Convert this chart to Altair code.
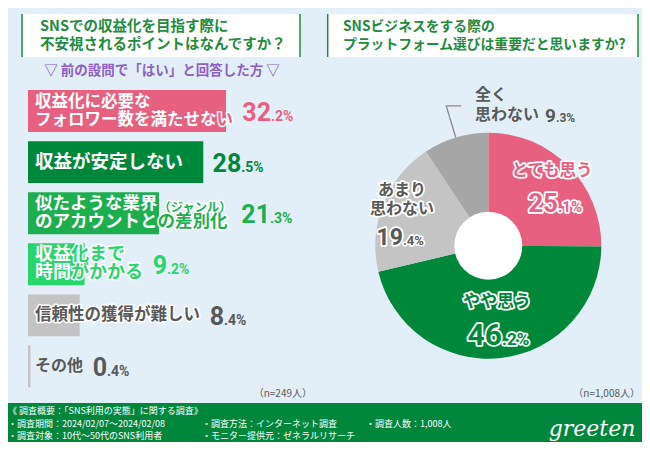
import math
import altair as alt
import pandas as pd

# ---------------- data ----------------
bar_categories = [
    "収益化に必要なフォロワー数を満たせない",
    "収益が安定しない",
    "似たような業界（ジャンル）のアカウントとの差別化",
    "収益化まで時間がかかる",
    "信頼性の獲得が難しい",
    "その他",
]
bar_label_lines = [
    ["収益化に必要な", "フォロワー数を満たせない"],
    ["収益が安定しない"],
    ["似たような業界（ジャンル）", "のアカウントとの差別化"],
    ["収益化まで", "時間がかかる"],
    ["信頼性の獲得が難しい"],
    ["その他"],
]
bar_values = [32.2, 28.5, 21.3, 9.2, 8.4, 0.4]

pie_categories = ["とても思う", "やや思う", "あまり思わない", "全く思わない"]
pie_label_lines = [["とても思う"], ["やや思う"], ["あまり", "思わない"], ["全く", "思わない"]]
pie_values = [25.1, 46.2, 19.4, 9.3]

left_title = ["SNSでの収益化を目指す際に", "不安視されるポイントはなんですか？"]
right_title = ["SNSビジネスをする際の", "プラットフォーム選びは重要だと思いますか?"]
subtitle = "▽  前の設問で「はい」と回答した方  ▽"
left_n = "（n=249人）"
right_n = "（n=1,008人）"
footer_col1 = ["《 調査概要：「SNS利用の実態」に関する調査》", "・調査期間：2024/02/07～2024/02/08", "・調査対象：10代～50代のSNS利用者"]
footer_col2 = ["・調査方法：インターネット調査", "・モニター提供元：ゼネラルリサーチ"]
footer_col3 = ["・調査人数：1,008人"]
logo_text = "greeten"

# ---------------- layout / style ----------------
W, H = 634, 434   # chart sits at page (8, 8)


def X(v):
    return v - 8


def Y(v):
    return v - 8


BG = "#E3EFF8"
TITLE_GREEN = "#1E8B3E"
PINK = "#E8607F"
GREEN = "#00883A"
GREEN2 = "#1DAF4F"
GREEN3 = "#28D56A"
GRAY_BAR = "#C3C3C3"
PIE_GRAY1 = "#C4C4C4"
PIE_GRAY2 = "#A6A6A6"
DARK = "#595959"
PURPLE = "#8E5FC9"
FOOT_GREEN = "#00873C"
JP = "Noto Sans CJK JP"
NUM = "Roboto"
ADV = 1.0   # glyph advance of full-width characters (em)

bar_colors = [PINK, GREEN, GREEN2, GREEN3, GRAY_BAR, GRAY_BAR]
bar_text_colors = [PINK, GREEN, GREEN2, GREEN3, DARK, DARK]
bar_white_inside = [True, True, True, True, False, False]
bar_label_halo = [3, 3, 3, 3, 3, 0]
bar_label_fs = [16.5, 18.5, 17.5, 18, 16.5, 16]
SMALL = 0.7

BAR_X0, PX_PER_PCT = 28, 6.15
BAND_START, BAND_END, P_IN, P_OUT = 85.5, 392, 0.18, 0.09
nb = len(bar_values)
step = (BAND_END - BAND_START) / (nb - P_IN + 2 * P_OUT)
bw = step * (1 - P_IN)
centers = [BAND_START + step * P_OUT + step * i + bw / 2 for i in range(nb)]

pie_colors = [PINK, GREEN, PIE_GRAY1, PIE_GRAY2]
pie_text_colors = [PINK, GREEN, DARK, DARK]
PIE_CX, PIE_CY, PIE_R, PIE_HOLE = 488.3, 245.7, 113, 34
pie_label_layout = [
    dict(x=552, ys=[171], jx=558, base=212, name_fs=16.5, int_fs=26, dec_fs=15, align="center", halo=3.5),
    dict(x=497, ys=[302], jx=502, base=345, name_fs=17, int_fs=30, dec_fs=17, align="center", halo=3.5),
    dict(x=402, ys=[190, 209], jx=403, base=245, name_fs=16, int_fs=23, dec_fs=13, align="center", halo=3.5),
    dict(x=475, ys=[95, 115], jx=556, base=122, name_fs=16, int_fs=19, dec_fs=12, align="left", halo=0),
]

items = []


def add(x, y, text, size, color, align="left", baseline="middle", font=JP, weight="bold", halo=0.0):
    if not text:
        return
    items.append(dict(x=X(x), y=Y(y), text=text, size=size, color=color, align=align,
                      baseline=baseline, font=font, weight=weight, halo=halo))


# titles
for i, line in enumerate(left_title):
    add(40, 27 + 18 * i, line, 14.5, TITLE_GREEN)
for i, line in enumerate(right_title):
    add(343, 27 + 18 * i, line, 13.8, TITLE_GREEN)
add(162, 71, subtitle, 13.5, PURPLE, align="center")

# bar labels: white over the bar, coloured past its end
for i, (lines, v) in enumerate(zip(bar_label_lines, bar_values)):
    bar_end = BAR_X0 + v * PX_PER_PCT
    fs = bar_label_fs[i]
    cy = centers[i]
    ys = [cy] if len(lines) == 1 else [cy - 9, cy + 9]
    text_end = 0
    for line, ly in zip(lines, ys):
        main, small = line, ""
        if "（" in line:
            k = line.index("（")
            main, small = line[:k], line[k:]
        x0 = 35
        n_in = 0
        if bar_white_inside[i]:
            for c in range(len(main)):
                if x0 + (c + 1) * fs * ADV <= bar_end + 1.5:
                    n_in = c + 1
        add(x0, ly, main[:n_in], fs, "white")
        add(x0 + n_in * fs * ADV, ly, main[n_in:], fs, bar_text_colors[i], halo=bar_label_halo[i])
        end = x0 + len(main) * fs * ADV
        if small:
            add(end + 1, ly + 4, small, fs * SMALL, bar_text_colors[i], halo=bar_label_halo[i])
            end = end + 1 + len(small) * fs * SMALL * ADV
        text_end = max(text_end, end)
    # value label
    start = max(bar_end, text_end) + 10
    ip, dp = f"{v:.1f}".split(".")
    junction = start + len(ip) * 0.56 * 25
    add(junction, cy + 10, ip, 25, bar_text_colors[i], align="right", baseline="alphabetic", font=NUM)
    add(junction, cy + 10, "." + dp + "%", 14, bar_text_colors[i], align="left", baseline="alphabetic", font=NUM)

# pie labels
for i, (lines, v, lay) in enumerate(zip(pie_label_lines, pie_values, pie_label_layout)):
    for line, ly in zip(lines, lay["ys"]):
        add(lay["x"], ly, line, lay["name_fs"], pie_text_colors[i], align=lay["align"], halo=lay["halo"])
    ip, dp = f"{v:.1f}".split(".")
    add(lay["jx"], lay["base"], ip, lay["int_fs"], pie_text_colors[i], align="right", baseline="alphabetic", font=NUM, halo=lay["halo"])
    add(lay["jx"], lay["base"], "." + dp + "%", lay["dec_fs"], pie_text_colors[i], align="left", baseline="alphabetic", font=NUM, halo=lay["halo"])

# n labels
add(312, 394, left_n, 10, DARK, align="right", weight="normal")
add(640, 394, right_n, 10, DARK, align="right", weight="normal")

# footer
for j, line in enumerate(footer_col1):
    add(8, 411 + 12.5 * j, line, 9, "white", weight="normal")
for j, line in enumerate(footer_col2):
    add(202, 423.5 + 12.5 * j, line, 9, "white", weight="normal")
for j, line in enumerate(footer_col3):
    add(366, 423.5 + 12.5 * j, line, 9, "white", weight="normal")

tdf = pd.DataFrame(items)

# ---------------- layers ----------------
layers = []

# title boxes
box_df = pd.DataFrame(dict(x=[X(22), X(327.7)], x2=[X(300), X(638)], y=[Y(14)] * 2, y2=[Y(57)] * 2))
layers.append(alt.Chart(box_df).mark_rect(color="white").encode(
    x=alt.X("x:Q", scale=None), x2="x2:Q", y=alt.Y("y:Q", scale=None), y2="y2:Q"))
rule_df = pd.DataFrame(dict(x=[X(22), X(300), X(327.7), X(638)], y=[Y(14)] * 4, y2=[Y(57)] * 4))
layers.append(alt.Chart(rule_df).mark_rule(color=TITLE_GREEN, strokeWidth=1.5).encode(
    x=alt.X("x:Q", scale=None), y=alt.Y("y:Q", scale=None), y2="y2:Q"))

# footer band
foot_df = pd.DataFrame(dict(x=[0], x2=[W], y=[Y(403)], y2=[H]))
layers.append(alt.Chart(foot_df).mark_rect(color=FOOT_GREEN).encode(
    x=alt.X("x:Q", scale=None), x2="x2:Q", y=alt.Y("y:Q", scale=None), y2="y2:Q"))

# bars
bar_df = pd.DataFrame(dict(cat=bar_categories, value=bar_values, color=bar_colors))
layers.append(alt.Chart(bar_df).mark_bar().encode(
    x=alt.X("value:Q", scale=alt.Scale(domain=[0, 100], range=[X(BAR_X0), X(BAR_X0 + 100 * PX_PER_PCT)], nice=False), axis=None),
    y=alt.Y("cat:N", sort=bar_categories,
            scale=alt.Scale(domain=bar_categories, range=[Y(BAND_START), Y(BAND_END)], paddingInner=P_IN, paddingOuter=P_OUT),
            axis=None),
    color=alt.Color("color:N", scale=None),
))

# pie
pie_df = pd.DataFrame(dict(name=pie_categories, value=pie_values, order=list(range(len(pie_values)))))
layers.append(alt.Chart(pie_df).mark_arc(innerRadius=0, outerRadius=PIE_R).encode(
    theta=alt.Theta("value:Q", stack=True),
    color=alt.Color("name:N", scale=alt.Scale(domain=pie_categories, range=pie_colors), legend=None),
    order=alt.Order("order:Q"),
    x=alt.value(X(PIE_CX)), y=alt.value(Y(PIE_CY)),
))
layers.append(alt.Chart(pd.DataFrame(dict(a=[0]))).mark_point(
    shape="circle", filled=True, color="white", opacity=1, size=(2 * PIE_HOLE) ** 2).encode(
    x=alt.value(X(PIE_CX)), y=alt.value(Y(PIE_CY))))

# leader line for the small slice
cum_before = sum(pie_values[:3])
mid = (cum_before + pie_values[3] / 2) / sum(pie_values) * 2 * math.pi
p1 = (PIE_CX + PIE_R * math.sin(mid), PIE_CY - PIE_R * math.cos(mid))
p2 = (PIE_CX + 146 * math.sin(mid), PIE_CY - 146 * math.cos(mid))
p3 = (p2[0] + 15, p2[1])
lead_df = pd.DataFrame(dict(o=[0, 1, 2], x=[X(p1[0]), X(p2[0]), X(p3[0])], y=[Y(p1[1]), Y(p2[1]), Y(p3[1])]))
layers.append(alt.Chart(lead_df).mark_line(color="#8A8A8A", strokeWidth=1.3).encode(
    x=alt.X("x:Q", scale=None), y=alt.Y("y:Q", scale=None), order="o:Q"))

# texts: halos first, then fills
groups = list(tdf.groupby(["align", "baseline", "font", "weight"]))
for (align, baseline, font, weight), sub in groups:
    h = sub[sub.halo > 0]
    if len(h):
        layers.append(alt.Chart(h).mark_text(
            align=align, baseline=baseline, font=font, fontWeight=weight,
            fill="white", stroke="white", strokeJoin="round").encode(
            x=alt.X("x:Q", scale=None), y=alt.Y("y:Q", scale=None), text="text:N",
            size=alt.Size("size:Q", scale=None),
            strokeWidth=alt.StrokeWidth("halo:Q", scale=None)))
for (align, baseline, font, weight), sub in groups:
    layers.append(alt.Chart(sub).mark_text(
        align=align, baseline=baseline, font=font, fontWeight=weight).encode(
        x=alt.X("x:Q", scale=None), y=alt.Y("y:Q", scale=None), text="text:N",
        size=alt.Size("size:Q", scale=None), color=alt.Color("color:N", scale=None)))

# logo
logo_df = pd.DataFrame(dict(x=[X(592)], y=[Y(436)], t=[logo_text]))
layers.append(alt.Chart(logo_df).mark_text(
    font="DejaVu Serif", fontStyle="italic", fontSize=22, color="white", align="center", baseline="alphabetic").encode(
    x=alt.X("x:Q", scale=None), y=alt.Y("y:Q", scale=None), text="t:N"))

chart = alt.layer(*layers).resolve_scale(
    x="independent", y="independent", color="independent", size="independent",
    strokeWidth="independent", theta="independent"
).properties(
    width=W, height=H, padding=0, autosize=alt.AutoSizeParams(type="none")
).configure(background=BG).configure_view(stroke=None)

chart.save("out.html", embed_options={"renderer": "svg", "actions": False})
